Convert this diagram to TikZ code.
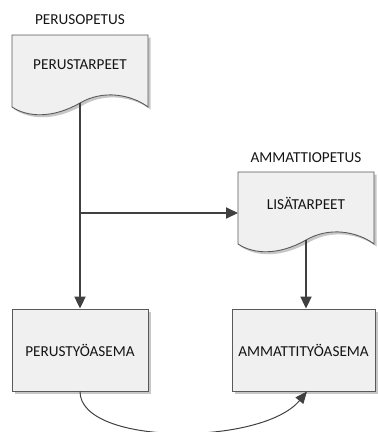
\documentclass[tikz,border=0pt]{standalone}
\usepackage{fontspec}
\setmainfont{Carlito}
\usetikzlibrary{arrows.meta,shadows}
\definecolor{edge}{HTML}{595959}
\definecolor{wire}{HTML}{404040}
\definecolor{boxfill}{HTML}{F0F0F0}
\tikzset{
  shapestyle/.style={draw=edge, line width=0.9pt, fill=boxfill,
    drop shadow={shadow xshift=2.5pt, shadow yshift=-2.5pt, opacity=0.22, fill=black}},
  boxstyle/.style={shapestyle, rectangle, minimum height=82pt, inner sep=0pt},
  lbl/.style={font=\fontsize{15.2}{18}\selectfont, text=black!92, inner sep=0pt},
  conn/.style={draw=wire, line width=2pt, -{Triangle[length=12pt,width=11pt]}},
  conncurve/.style={draw=wire, line width=1pt, -{Triangle[length=12pt,width=10pt]}},
  docpic/.pic={
    \path[shapestyle] (0,0) -- (136,0) -- (136,72)
      .. controls (120,60) and (92,54) .. (68,68)
      .. controls (40,84) and (15,82) .. (0,72) -- cycle;
    \coordinate (-wave) at (68,68);
    \coordinate (-left) at (0,41);
  }
}
\begin{document}
\begin{tikzpicture}[x=1pt,y=-1pt]
\useasboundingbox (0,0) rectangle (378,432);
% documents
\pic (d1) at (12,35) {docpic};
\pic (d2) at (238,172) {docpic};
\node[lbl] (d1h) at (80,20) {PERUSOPETUS};
\node[lbl] (d1t) at (80,65) {PERUSTARPEET};
\node[lbl] (d2h) at (306,158) {AMMATTIOPETUS};
\node[lbl] (d2t) at (306,203) {LISÄTARPEET};
% boxes
\node[boxstyle, minimum width=136pt] (b1) at (80,350) {};
\node[boxstyle, minimum width=143pt] (b2) at (303.5,350) {};
\node[lbl] (b1t) at (b1) {PERUSTYÖASEMA};
\node[lbl] (b2t) at (b2) {AMMATTITYÖASEMA};
% connectors
\draw[conn] (d1-wave) -- (b1.north);
\draw[conn] (d1-wave |- d2-left) -- (d2-left);
\draw[conn] (d2-wave) -- (d2-wave |- b2.north);
\draw[conncurve] (b1.south) .. controls (80,446) and (262,446) .. ([xshift=3.5pt]b2.south);
\end{tikzpicture}
\end{document}
